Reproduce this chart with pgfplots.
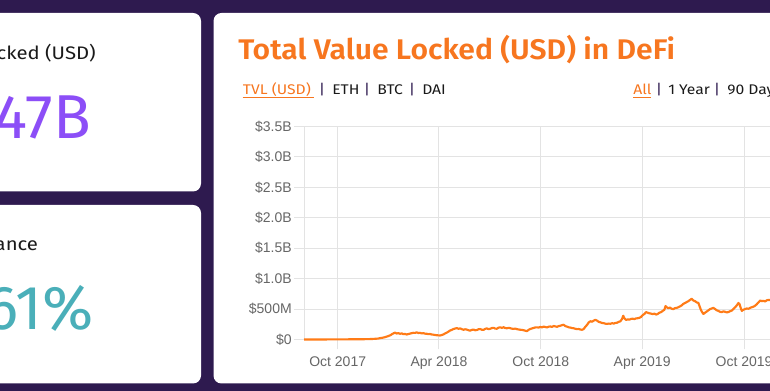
\documentclass[border=0pt]{standalone}
\usepackage{fontspec}
\usepackage{pgfplots}
\pgfplotsset{compat=1.18}
\setmainfont{Fira Sans}
\newfontfamily\uiwide{Fira Sans}[FakeStretch=1.12]
\newfontfamily\titlefont{Fira Sans SemiBold}[FakeStretch=1.06]
\newfontfamily\arialfont{Liberation Sans}
\definecolor{bg}{HTML}{2E1A4F}
\definecolor{ttl}{HTML}{F7761F}
\definecolor{lineor}{HTML}{FF7B17}
\definecolor{purp}{HTML}{8C4EF7}
\definecolor{teal}{HTML}{4AAFB9}
\definecolor{gridc}{HTML}{E3E3E3}
\definecolor{tickc}{HTML}{666666}
\definecolor{txt}{HTML}{1A1A1A}
\begin{document}
\begin{tikzpicture}[x=0.75pt,y=0.75pt]
\useasboundingbox (0,0) rectangle (770,391);
\clip (0,0) rectangle (770,391);
\fill[bg] (-10,-10) rectangle (780,400);
\fill[white, rounded corners=6pt] (-30,391-191.5) rectangle (201,391-13);
\fill[white, rounded corners=6pt] (-30,391-383.5) rectangle (201,391-205);
\fill[white, rounded corners=6pt] (213.5,391-383.5) rectangle (820,391-13);
% left cards
\node[anchor=base east, inner sep=0, text=txt, font=\uiwide\fontsize{13.6}{16}\selectfont] at (96,391-59.3) {Total Value Locked (USD)};
\node[anchor=base east, inner sep=0, text=purp, font=\fontsize{46.5}{50}\selectfont] at (91,391-138.3) {\$0.647B};
\node[anchor=base east, inner sep=0, text=txt, font=\uiwide\fontsize{13.6}{16}\selectfont] at (38.3,391-250.7) {MakerDAO Dominance};
\node[anchor=base east, inner sep=0, text=teal, font=\fontsize{46.5}{50}\selectfont] at (94,391-329.5) {52.61\%};
% title
\node[anchor=base west, inner sep=0, text=ttl, font=\titlefont\fontsize{21.3}{25}\selectfont] at (238,391-59.3) {Total Value Locked (USD) in DeFi};
% selectors
\begin{scope}[every node/.style={anchor=base west, inner sep=0, text=txt, font=\uiwide\fontsize{10.5}{12}\selectfont}]
\node[text=ttl] at (242.7,391-94.5) {TVL (USD)};
\draw[ttl, line width=0.6pt] (242.7,391-97) -- (314,391-97);
\node[anchor=base, text=bg] at (322,391-94.5) {|};
\node at (332,391-94.5) {ETH};
\node[anchor=base, text=bg] at (367,391-94.5) {|};
\node at (377,391-94.5) {BTC};
\node[anchor=base, text=bg] at (412,391-94.5) {|};
\node at (422,391-94.5) {DAI};
\node[text=ttl] at (633,391-94.5) {All};
\draw[ttl, line width=0.6pt] (633,391-97) -- (651,391-97);
\node[anchor=base, text=bg] at (659,391-94.5) {|};
\node at (668,391-94.5) {1 Year};
\node[anchor=base, text=bg] at (717,391-94.5) {|};
\node at (727,391-94.5) {90 Days};
\end{scope}
\begin{axis}[
  at={(228pt,38.625pt)}, anchor=south west,
  scale only axis, width=372pt, height=159.75pt,
  xmin=-60.5, xmax=830.6, ymin=0, ymax=3.5,
  clip=false,
  axis line style={draw=gridc, line width=0.75pt},
  grid=major,
  major grid style={draw=gridc, line width=0.75pt},
  tick style={draw=gridc, line width=0.75pt},
  major tick length=7.5pt, tick align=outside,
  xtick pos=left, ytick pos=left,
  xtick={0,182,365,547,730},
  xticklabels={Oct 2017,Apr 2018,Oct 2018,Apr 2019,Oct 2019},
  ytick={0,0.5,1,1.5,2,2.5,3,3.5},
  yticklabels={\$0,\$500M,\$1.0B,\$1.5B,\$2.0B,\$2.5B,\$3.0B,\$3.5B},
  /pgf/number format/assume math mode=true,
  tick label style={font=\arialfont\fontsize{10.5}{12}\selectfont, text=tickc},
  xticklabel style={inner sep=0pt, yshift=-5.5pt},
  yticklabel style={inner sep=0pt, xshift=-1.5pt},
]
\addplot[lineor, line width=1.6pt, line join=round] coordinates {
(-60.5,0) (-40,0.001) (-20,0.001) (0,0.002) (20,0.003) (40,0.004) (55,0.006) (65,0.01) (72,0.015) (78,0.025) (84,0.035) (88,0.048) (92,0.06) (95,0.072) (98,0.09) (101,0.105) (103,0.112) (106,0.098) (109,0.105) (112,0.094) (115,0.1) (118,0.088) (121,0.092) (124,0.082) (127,0.09) (130,0.097) (133,0.104) (136,0.11) (139,0.108) (142,0.117) (145,0.106) (148,0.11) (151,0.1) (154,0.104) (157,0.096) (160,0.094) (163,0.088) (166,0.09) (169,0.082) (172,0.079) (175,0.074) (178,0.07) (181,0.068) (184,0.066) (187,0.074) (190,0.083) (193,0.1) (196,0.112) (199,0.13) (202,0.148) (205,0.158) (208,0.172) (211,0.18) (214,0.188) (217,0.176) (220,0.182) (223,0.17) (226,0.16) (229,0.168) (232,0.163) (235,0.152) (238,0.146) (241,0.158) (244,0.163) (247,0.152) (250,0.156) (253,0.168) (256,0.172) (259,0.16) (262,0.158) (265,0.175) (268,0.182) (271,0.17) (274,0.176) (277,0.188) (280,0.192) (283,0.18) (286,0.176) (289,0.195) (292,0.2) (295,0.19) (298,0.202) (301,0.188) (304,0.184) (307,0.192) (310,0.186) (313,0.178) (316,0.174) (319,0.18) (322,0.17) (325,0.165) (328,0.16) (331,0.158) (334,0.152) (337,0.145) (340,0.138) (343,0.158) (346,0.172) (349,0.182) (352,0.19) (355,0.198) (358,0.2) (361,0.196) (364,0.206) (367,0.2) (370,0.212) (373,0.205) (376,0.198) (379,0.21) (382,0.214) (385,0.206) (388,0.222) (391,0.215) (394,0.208) (397,0.22) (400,0.226) (403,0.236) (406,0.242) (409,0.22) (412,0.212) (415,0.2) (418,0.196) (421,0.188) (424,0.184) (427,0.176) (430,0.17) (433,0.172) (436,0.164) (439,0.16) (442,0.172) (445,0.21) (448,0.24) (451,0.28) (454,0.3) (457,0.292) (460,0.31) (463,0.324) (466,0.31) (469,0.29) (472,0.282) (475,0.272) (478,0.268) (481,0.26) (484,0.256) (487,0.262) (490,0.258) (493,0.268) (496,0.262) (499,0.272) (502,0.276) (505,0.29) (508,0.3) (511,0.34) (513,0.39) (515,0.35) (518,0.322) (521,0.33) (524,0.326) (527,0.338) (530,0.342) (533,0.336) (536,0.346) (539,0.35) (542,0.356) (545,0.37) (548,0.4) (551,0.42) (554,0.45) (557,0.44) (560,0.43) (563,0.425) (566,0.418) (569,0.425) (572,0.41) (575,0.42) (578,0.44) (581,0.45) (584,0.47) (587,0.49) (589,0.55) (591,0.53) (594,0.515) (597,0.525) (600,0.505) (603,0.5) (606,0.515) (609,0.52) (612,0.53) (615,0.545) (618,0.56) (621,0.585) (624,0.6) (627,0.615) (630,0.63) (633,0.65) (636,0.67) (639,0.64) (642,0.63) (645,0.61) (648,0.6) (650,0.55) (652,0.5) (654,0.46) (657,0.42) (660,0.44) (663,0.46) (666,0.48) (669,0.5) (672,0.51) (675,0.52) (678,0.5) (681,0.48) (684,0.47) (687,0.455) (690,0.45) (693,0.462) (696,0.455) (699,0.445) (702,0.452) (705,0.465) (708,0.475) (711,0.5) (714,0.53) (717,0.56) (720,0.6) (722,0.58) (724,0.52) (726,0.47) (729,0.49) (732,0.5) (735,0.51) (738,0.505) (741,0.52) (744,0.53) (747,0.54) (750,0.555) (753,0.58) (756,0.61) (759,0.64) (762,0.63) (765,0.635) (768,0.625) (771,0.645) (774,0.65) (777,0.65) (782,0.655) (790,0.66) (800,0.665) (810,0.67)
};
\end{axis}
\end{tikzpicture}
\end{document}
